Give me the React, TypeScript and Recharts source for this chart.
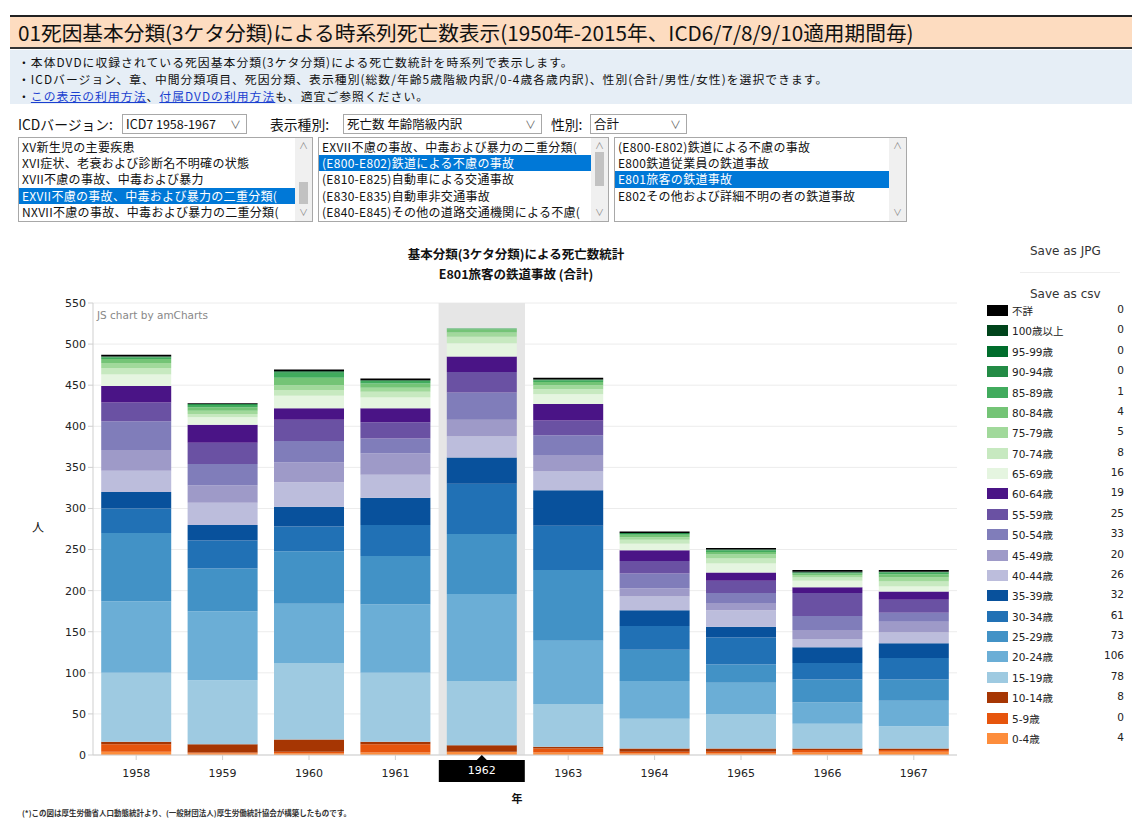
import React from 'react';
import { BarChart, Bar, XAxis, YAxis, CartesianGrid, ReferenceArea, Label } from 'recharts';

// 年
const years = ['1958', '1959', '1960', '1961', '1962', '1963', '1964', '1965', '1966', '1967'];

// 年齢階級（積み上げの下から順）
const ageGroups = [
  '0-4歳', '5-9歳', '10-14歳', '15-19歳', '20-24歳', '25-29歳', '30-34歳', '35-39歳',
  '40-44歳', '45-49歳', '50-54歳', '55-59歳', '60-64歳', '65-69歳', '70-74歳', '75-79歳',
  '80-84歳', '85-89歳', '90-94歳', '95-99歳', '100歳以上', '不詳',
];

const ageColors = [
  '#fd8d3c', '#e6550d', '#a63603',
  '#9ecae1', '#6baed6', '#4292c6', '#2171b5', '#08519c',
  '#bcbddc', '#9e9ac8', '#807dba', '#6a51a3', '#4a1486',
  '#e5f5e0', '#c7e9c0', '#a1d99b', '#74c476', '#41ab5d', '#238b45', '#006d2c', '#00441b',
  '#000000',
];

// 各年の死亡数（ageGroups の順）
const v1958 = [4, 9, 3, 84, 87, 83, 30, 20, 26, 25, 35, 23, 20, 14, 8, 6, 5, 2, 1, 0, 0, 2];
const v1959 = [2, 1, 10, 78, 84, 52, 34, 19, 27, 21, 26, 26, 22, 9, 4, 4, 4, 3, 1, 0, 0, 1];
const v1960 = [2, 2, 15, 93, 72, 64, 30, 24, 30, 24, 26, 26, 14, 15, 7, 6, 9, 6, 1, 1, 0, 2];
const v1961 = [3, 10, 3, 84, 83, 59, 38, 33, 28, 26, 18, 20, 17, 13, 7, 5, 5, 3, 1, 0, 0, 2];
const v1962 = [4, 0, 8, 78, 106, 73, 61, 32, 26, 20, 33, 25, 19, 16, 8, 5, 4, 1, 0, 0, 0, 0];
const v1963 = [3, 5, 2, 52, 77, 86, 54, 43, 23, 20, 24, 18, 20, 12, 6, 5, 4, 2, 1, 0, 0, 2];
const v1964 = [2, 2, 4, 36, 46, 38, 29, 19, 17, 10, 18, 15, 13, 8, 5, 3, 3, 1, 1, 0, 0, 2];
const v1965 = [2, 2, 4, 42, 38, 22, 33, 13, 20, 9, 12, 15, 10, 11, 6, 5, 3, 2, 1, 0, 0, 2];
const v1966 = [3, 3, 2, 30, 26, 28, 20, 19, 10, 11, 17, 28, 7, 8, 4, 3, 2, 1, 0, 0, 1, 2];
const v1967 = [4, 2, 2, 27, 31, 26, 26, 18, 13, 13, 11, 16, 10, 6, 6, 5, 4, 2, 1, 0, 0, 2];

const valuesByYear = [v1958, v1959, v1960, v1961, v1962, v1963, v1964, v1965, v1966, v1967];

const yTicks = [0, 50, 100, 150, 200, 250, 300, 350, 400, 450, 500, 550];

const activeYear = '1962';

const chartData = years.map((year, i) => {
  const row: Record<string, string | number> = { year };
  ageGroups.forEach((g, j) => {
    row[g] = valuesByYear[i][j];
  });
  return row;
});

const jp = '"Noto Sans CJK JP", "Noto Sans", sans-serif';
const chartFont = '"DejaVu Sans", Verdana, "Noto Sans CJK JP", sans-serif';

const list1 = [
  'XV新生児の主要疾患',
  'XVI症状、老衰および診断名不明確の状態',
  'XVII不慮の事故、中毒および暴力',
  'EXVII不慮の事故、中毒および暴力の二重分類(',
  'NXVII不慮の事故、中毒および暴力の二重分類(',
];
const list2 = [
  'EXVII不慮の事故、中毒および暴力の二重分類(',
  '(E800-E802)鉄道による不慮の事故',
  '(E810-E825)自動車による交通事故',
  '(E830-E835)自動車非交通事故',
  '(E840-E845)その他の道路交通機関による不慮(',
];
const list3 = [
  '(E800-E802)鉄道による不慮の事故',
  'E800鉄道従業員の鉄道事故',
  'E801旅客の鉄道事故',
  'E802その他および詳細不明の者の鉄道事故',
];

const abs = (left: number, top: number, extra: React.CSSProperties = {}): React.CSSProperties => ({
  position: 'absolute',
  left,
  top,
  ...extra,
});

const ListBox = ({ left, width, items, selected, thumbTop, thumbH }: any) => (
  <div
    style={abs(left, 137, {
      width,
      height: 85,
      border: '1px solid #a8a8a8',
      background: '#fff',
      boxSizing: 'border-box',
      fontFamily: jp,
      fontSize: 12,
    })}
  >
    {items.map((t: string, i: number) => (
      <div
        key={i}
        style={abs(0, 0.5 + i * 16.4, {
          width: width - 19,
          height: 16.4,
          lineHeight: '16.4px',
          paddingLeft: 3,
          boxSizing: 'border-box',
          whiteSpace: 'nowrap',
          letterSpacing: 0.3,
          background: i === selected ? '#0078d7' : 'transparent',
          color: i === selected ? '#fff' : '#111',
        })}
      >
        {t}
      </div>
    ))}
    <div style={abs(width - 19, 0, { width: 17, height: 83, background: '#f0f0f0' })}>
      <div style={abs(0, 1, { width: 17, textAlign: 'center', fontSize: 9, color: '#888' })}>∧</div>
      {thumbH > 0 && <div style={abs(4, thumbTop, { width: 9, height: thumbH, background: '#c2c2c2' })} />}
      <div style={abs(0, 68, { width: 17, textAlign: 'center', fontSize: 9, color: '#888' })}>∨</div>
    </div>
  </div>
);

const Select = ({ left, width, text }: any) => (
  <div
    style={abs(left, 114, {
      width,
      height: 20,
      border: '1px solid #a8a8a8',
      boxSizing: 'border-box',
      background: '#fff',
      fontFamily: jp,
      fontSize: 12.5,
      lineHeight: '18px',
      paddingLeft: 3,
      color: '#111',
      whiteSpace: 'nowrap',
    })}
  >
    {text}
    <span style={{ position: 'absolute', right: 5, top: 0, color: '#666', fontSize: 11 }}>∨</span>
  </div>
);

const XTick = (props: any) => {
  const { x, y, payload } = props;
  const active = payload.value === activeYear;
  return (
    <g transform={`translate(${x},${y})`}>
      {active && (
        <>
          <rect x={-43} y={-2} width={86} height={22} fill="#000" />
          <path d="M-5 -2 L0 -7 L5 -2 Z" fill="#000" />
        </>
      )}
      <text
        x={0}
        y={active ? 9 : 12}
        textAnchor="middle"
        dominantBaseline="middle"
        fontSize={11}
        fontFamily={chartFont}
        fill={active ? '#fff' : '#222'}
      >
        {payload.value}
      </text>
    </g>
  );
};

const activeIndex = years.indexOf(activeYear);
const legendRows = ageGroups.map((g, i) => ({ g, color: ageColors[i], value: valuesByYear[activeIndex][i] })).reverse();

export default function App() {
  return (
    <div style={abs(0, 0, { width: 1132, height: 823, background: '#fff', overflow: 'hidden', fontFamily: jp })}>
      {/* header */}
      <div style={abs(10, 15, { width: 1122, height: 2, background: '#222' })} />
      <div style={abs(10, 17, { width: 1122, height: 30, background: '#fddcc0' })} />
      <div
        style={abs(18, 17, {
          height: 30,
          lineHeight: '30px',
          fontSize: 20.7,
          color: '#111',
          whiteSpace: 'nowrap',
        })}
      >
        01死因基本分類(3ケタ分類)による時系列死亡数表示(1950年-2015年、ICD6/7/8/9/10適用期間毎)
      </div>
      <div style={abs(10, 47, { width: 1122, height: 2, background: '#333' })} />
      <div style={abs(10, 50, { width: 1122, height: 54, background: '#e6eef6' })} />
      <div style={abs(18, 53, { fontSize: 11.8, lineHeight: '17px', letterSpacing: 1.05, color: '#111', whiteSpace: 'nowrap' })}>
        <div>・本体DVDに収録されている死因基本分類(3ケタ分類)による死亡数統計を時系列で表示します。</div>
        <div>・ICDバージョン、章、中間分類項目、死因分類、表示種別(総数/年齢5歳階級内訳/0-4歳各歳内訳)、性別(合計/男性/女性)を選択できます。</div>
        <div>
          ・<span style={{ color: '#1a3fd0', textDecoration: 'underline' }}>この表示の利用方法</span>、
          <span style={{ color: '#1a3fd0', textDecoration: 'underline' }}>付属DVDの利用方法</span>も、適宜ご参照ください。
        </div>
      </div>

      {/* selectors */}
      <div style={abs(18, 114, { fontSize: 13.8, color: '#111' })}>ICDバージョン:</div>
      <Select left={122} width={125} text="ICD7 1958-1967" />
      <div style={abs(270, 114, { fontSize: 13.8, color: '#111' })}>表示種別:</div>
      <Select left={343} width={199} text="死亡数 年齢階級内訳" />
      <div style={abs(551, 114, { fontSize: 13.8, color: '#111' })}>性別:</div>
      <Select left={590} width={97} text="合計" />

      <ListBox left={18} width={295} items={list1} selected={3} thumbTop={44} thumbH={22} />
      <ListBox left={318} width={291} items={list2} selected={1} thumbTop={14} thumbH={34} />
      <ListBox left={614} width={293} items={list3} selected={2} thumbTop={0} thumbH={0} />

      {/* chart titles */}
      <div style={abs(316, 244, { width: 400, textAlign: 'center', fontSize: 12.5, fontWeight: 700, color: '#111', lineHeight: '20px' })}>
        <div>基本分類(3ケタ分類)による死亡数統計</div>
        <div>E801旅客の鉄道事故 (合計)</div>
      </div>
      <div style={abs(1030, 244, { fontFamily: chartFont, fontSize: 12, color: '#333' })}>Save as JPG</div>
      <div style={abs(1020, 272, { width: 100, height: 1, background: '#eee' })} />
      <div style={abs(1030, 287, { fontFamily: chartFont, fontSize: 12, color: '#333' })}>Save as csv</div>

      <div style={abs(0, 230)}>
        <BarChart
          width={1132}
          height={593}
          data={chartData}
          margin={{ top: 73, right: 175, bottom: 16, left: 33 }}
          barCategoryGap="9.5%"
        >
          <CartesianGrid vertical={false} stroke="#ececec" />
          <ReferenceArea x1={activeYear} x2={activeYear} fill="#e6e6e6" fillOpacity={1} stroke="none" />
          <XAxis
            dataKey="year"
            height={52}
            tick={<XTick />}
            tickSize={5}
            axisLine={{ stroke: '#cfcfcf' }}
            tickLine={{ stroke: '#cfcfcf' }}
            interval={0}
          >
            <Label
              content={(p: any) => (
                <text
                  x={p.viewBox.x + p.viewBox.width / 2 - 8}
                  y={p.viewBox.y + 45}
                  textAnchor="middle"
                  dominantBaseline="middle"
                  fontSize={11}
                  fontWeight={700}
                  fontFamily={jp}
                  fill="#111"
                >
                  年
                </text>
              )}
            />
          </XAxis>
          <YAxis
            width={60}
            domain={[0, 550]}
            ticks={yTicks}
            interval={0}
            tick={{ fontSize: 11, fill: '#222', fontFamily: chartFont }}
            axisLine={{ stroke: '#cfcfcf' }}
            tickLine={{ stroke: '#cfcfcf' }}
            tickSize={5}
          >
            <Label
              content={(p: any) => (
                <text
                  x={p.viewBox.x + 5}
                  y={p.viewBox.y + p.viewBox.height / 2}
                  textAnchor="middle"
                  dominantBaseline="middle"
                  fontSize={12}
                  fontFamily={jp}
                  fill="#111"
                >
                  人
                </text>
              )}
            />
          </YAxis>
          {ageGroups.map((g, i) => (
            <Bar key={g} dataKey={g} stackId="age" fill={ageColors[i]} isAnimationActive={false} />
          ))}
        </BarChart>
      </div>

      <div style={abs(97, 309, { fontFamily: chartFont, fontSize: 10.5, color: '#888' })}>JS chart by amCharts</div>

      {/* legend */}
      {legendRows.map((r, i) => (
        <div key={r.g} style={abs(987, 304 + i * 20.38, { width: 140, height: 14 })}>
          <div style={abs(0, 1, { width: 21, height: 11, background: r.color })} />
          <div style={abs(25, -1, { fontFamily: chartFont, fontSize: 10.5, color: '#222', whiteSpace: 'nowrap' })}>{r.g}</div>
          <div style={abs(0, -1, { width: 137, textAlign: 'right', fontFamily: chartFont, fontSize: 10.5, color: '#222' })}>
            {r.value}
          </div>
        </div>
      ))}

      <div style={abs(22, 807, { fontSize: 7.5, fontWeight: 700, color: '#333', whiteSpace: 'nowrap' })}>
        (*)この図は厚生労働省人口動態統計より、(一般財団法人)厚生労働統計協会が構築したものです。
      </div>
    </div>
  );
}
